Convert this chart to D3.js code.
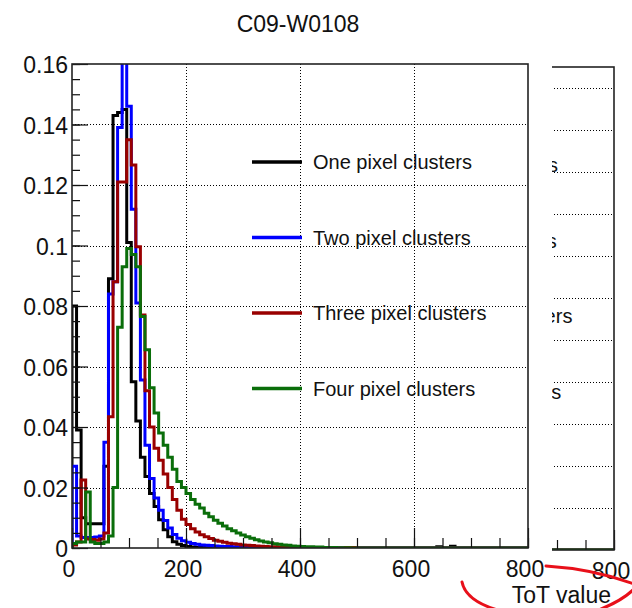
<!DOCTYPE html>
<html><head><meta charset="utf-8">
<script src="https://cdn.jsdelivr.net/npm/d3@7"></script>
<style>
body{margin:0;background:#fff}
svg{display:block}
text{font-family:"Liberation Sans",Arial,Helvetica,sans-serif;fill:#111}
</style>
</head><body>
<svg id="c" width="632" height="608"></svg>
<script>
// ---------------- data ----------------
const chartTitle = "C09-W0108";
const xTitle = "ToT value";
const binWidth = 8;               // ToT units per histogram bin (100 bins, 0..800)
const xTickValues = [0, 200, 400, 600, 800];
const xTickLabels = ["0", "200", "400", "600", "800"];
const yTickValues = [0, 0.02, 0.04, 0.06, 0.08, 0.1, 0.12, 0.14, 0.16];
const yTickLabels = ["0", "0.02", "0.04", "0.06", "0.08", "0.1", "0.12", "0.14", "0.16"];
const seriesNames = ["One pixel clusters", "Two pixel clusters", "Three pixel clusters", "Four pixel clusters"];
const seriesColors = ["#000000", "#0000ff", "#990000", "#0a6e0a"];

const onePixel = [
 0.080,0.039,0.010,0.008,0.008,0.008,0.008,0.027,0.089,0.143,
 0.144,0.145,0.101,0.055,0.042,0.030,0.0236,0.018,0.0137,0.0093,
 0.006,0.0037,0.0021,0.0012,0.0008,0.0005,0.0003,0.0002,0.0002,0.0001,
 0.0001,0.0001,0,0,0,0,0,0,0,0,
 0,0,0,0,0,0,0,0,0,0,
 0,0,0,0,0,0,0,0,0,0,
 0,0,0,0,0,0,0,0,0,0,
 0,0,0,0,0,0,0,0,0,0,
 0.0004,0,0,0.0006,0,0,0,0,0,0,
 0,0,0,0,0,0,0,0,0,0];
const twoPixel = [
 0.027,0.004,0.0035,0.0035,0.0035,0.0036,0.004,0.035,0.084,0.088,
 0.139,0.165,0.146,0.112,0.081,0.0555,0.034,0.023,0.0165,0.0125,
 0.0091,0.0066,0.0045,0.0032,0.0024,0.0019,0.0015,0.0012,0.0010,0.0009,
 0.0008,0.0007,0.0006,0.0005,0.0005,0.0004,0.0004,0.0003,0.0003,0.0002,
 0.0002,0.0002,0.0001,0.0001,0.0001,0,0,0,0,0,
 0,0,0,0,0,0,0,0,0,0,
 0,0,0,0,0,0,0,0,0,0,
 0,0,0,0,0,0,0,0,0,0,
 0,0,0,0,0,0,0,0,0,0,
 0,0,0,0,0,0,0,0,0,0];
const threePixel = [
 0.001,0.002,0.0225,0.003,0.0028,0.0026,0.003,0.005,0.0434,0.088,
 0.121,0.121,0.135,0.1266,0.0996,0.077,0.052,0.040,0.033,0.029,
 0.0245,0.020,0.016,0.0125,0.0095,0.0078,0.0064,0.0053,0.0044,0.0037,
 0.0031,0.0026,0.0022,0.0019,0.0016,0.0014,0.0012,0.0010,0.0009,0.0008,
 0.0007,0.0006,0.0005,0.0004,0.0004,0.0003,0.0003,0.0002,0.0002,0.0001,
 0.0001,0,0,0,0,0,0,0,0,0,
 0.0002,0.0002,0,0,0,0,0,0,0,0,
 0,0,0,0,0,0,0,0,0,0,
 0,0,0,0,0,0,0,0,0,0,
 0,0,0,0,0,0,0,0,0,0];
const fourPixel = [
 0.0015,0.002,0.002,0.0185,0.002,0.0015,0.0015,0.002,0.004,0.020,
 0.073,0.093,0.099,0.097,0.093,0.0765,0.0655,0.053,0.0446,0.038,
 0.034,0.030,0.026,0.022,0.020,0.018,0.016,0.0145,0.0132,0.0115,
 0.0103,0.0092,0.0082,0.0073,0.0064,0.0057,0.0050,0.0043,0.0037,0.0032,
 0.0027,0.0023,0.0020,0.0017,0.0014,0.0012,0.0010,0.0009,0.0007,0.0006,
 0.0005,0.0004,0.0004,0.0003,0.0003,0.0002,0.0002,0.0002,0.0001,0.0001,
 0.0001,0,0,0,0,0,0,0,0,0,
 0,0,0,0,0,0,0,0,0,0,
 0,0,0,0,0,0,0,0,0,0,
 0,0,0,0,0,0,0,0,0,0];
const seriesValues = [onePixel, twoPixel, threePixel, fourPixel];

// ---------------- layout ----------------
const svg = d3.select("#c");
const F = {l: 72, r: 528, t: 64, b: 548};        // main frame
const F2 = {l: 158, r: 614, t: 67, b: 550, clip: 552}; // second (partly hidden) pad

const x = d3.scaleLinear().domain([0, 800]).range([F.l, F.r]);
const y = d3.scaleLinear().domain([0, 0.16]).range([F.b, F.t]);
const x2 = d3.scaleLinear().domain([0, 800]).range([F2.l, F2.r]);
const y2 = d3.scaleLinear().domain([0, 0.115]).range([F2.b, F2.t]);

const defs = svg.append("defs");
defs.append("clipPath").attr("id", "frameClip").append("rect")
  .attr("x", F.l).attr("y", F.t).attr("width", F.r - F.l).attr("height", F.b - F.t);
defs.append("clipPath").attr("id", "pad2Clip").append("rect")
  .attr("x", F2.clip).attr("y", 0).attr("width", 632 - F2.clip).attr("height", 608);
defs.append("clipPath").attr("id", "frame2Clip").append("rect")
  .attr("x", F2.l).attr("y", F2.t).attr("width", F2.r - F2.l).attr("height", F2.b - F2.t);

function histPoints(vals) {
  const pts = [[0, 0]];
  vals.forEach((v, i) => pts.push([i * binWidth, v]));
  pts.push([vals.length * binWidth, 0]);
  return pts;
}

function drawPad(g, xs, ys, fr, gridY, clipId, legendDx, legendDy, showYLabels, visibleFrom) {
  // grid
  const grid = g.append("g").attr("stroke", "#000").attr("stroke-width", 1)
    .attr("stroke-dasharray", "1,2");
  gridY.forEach(v => grid.append("line")
    .attr("x1", fr.l).attr("x2", fr.r).attr("y1", Math.round(ys(v)) + 0.5).attr("y2", Math.round(ys(v)) + 0.5));
  [200, 400, 600].filter(v => xs(v) >= visibleFrom).forEach(v => grid.append("line")
    .attr("y1", fr.t).attr("y2", fr.b).attr("x1", Math.round(xs(v)) + 0.5).attr("x2", Math.round(xs(v)) + 0.5));

  // histograms
  const line = d3.line().x(d => xs(d[0])).y(d => ys(d[1])).curve(d3.curveStepAfter);
  const hg = g.append("g").attr("clip-path", `url(#${clipId})`);
  seriesValues.forEach((vals, k) => {
    hg.append("path").attr("d", line(histPoints(vals)))
      .attr("fill", "none").attr("stroke", seriesColors[k]).attr("stroke-width", 3)
      .attr("stroke-linejoin", "miter");
  });

  // axes (ticks inside the frame) — only ticks in the visible part of the pad
  const majIdx = xTickValues.map((v, i) => i).filter(i => xs(xTickValues[i]) >= visibleFrom);
  const xMajor = d3.axisBottom(xs).tickValues(majIdx.map(i => xTickValues[i])).tickSize(-20).tickPadding(13)
    .tickFormat(d => xTickLabels[xTickValues.indexOf(d)]);
  const xMinor = d3.axisBottom(xs).tickValues(d3.range(0, 801, 50).filter(v => xs(v) >= visibleFrom))
    .tickSize(-10).tickFormat("");
  const ax = g.append("g").attr("transform", `translate(0,${fr.b})`);
  ax.call(xMinor); ax.select(".domain").remove();
  const ax2 = g.append("g").attr("transform", `translate(0,${fr.b})`);
  ax2.call(xMajor); ax2.select(".domain").remove();
  ax2.selectAll("text").attr("font-size", 23).attr("dx", -3.5)
    .style("font-family", "'Liberation Sans',Arial,sans-serif").attr("fill", "#111");

  if (showYLabels) {
    const yMinor = d3.axisLeft(ys).tickValues(d3.range(0, 0.16001, 0.005)).tickSize(-8).tickFormat("");
    const yMajor = d3.axisLeft(ys).tickValues(yTickValues).tickSize(-16).tickPadding(4)
      .tickFormat((d, i) => yTickLabels[i]);
    const ay = g.append("g").attr("transform", `translate(${fr.l},0)`);
    ay.call(yMinor); ay.select(".domain").remove();
    const ay2 = g.append("g").attr("transform", `translate(${fr.l},0)`);
    ay2.call(yMajor); ay2.select(".domain").remove();
    ay2.selectAll("text").attr("font-size", 23).attr("dy", "0.37em")
      .style("font-family", "'Liberation Sans',Arial,sans-serif").attr("fill", "#111");
  }
  g.selectAll(".tick line").attr("stroke", "#111").attr("stroke-width", 1.2);

  // frame
  g.append("rect").attr("x", fr.l).attr("y", fr.t).attr("width", fr.r - fr.l).attr("height", fr.b - fr.t)
    .attr("fill", "none").attr("stroke", "#222").attr("stroke-width", 1.6);

  // legend (in the hidden pad only the tail of each label shows)
  const lg = g.append("g");
  seriesNames.forEach((name, k) => {
    const ly = 162 + k * 75.5 + legendDy;
    if (302 + legendDx >= visibleFrom) {
      lg.append("line").attr("x1", 252 + legendDx).attr("x2", 302 + legendDx)
        .attr("y1", ly).attr("y2", ly).attr("stroke", seriesColors[k]).attr("stroke-width", 3.5);
    }
    const t = lg.append("text").attr("x", 313 + legendDx).attr("y", ly + 7).attr("font-size", 20)
      .attr("fill", "#222").text(name);
    if (313 + legendDx < visibleFrom) {
      const node = t.node();
      let first = -1;
      for (let c = 0; c < name.length; c++) {
        const ext = node.getExtentOfChar(c);
        if (ext.x + ext.width > visibleFrom + 1.5) { first = c; break; }
      }
      if (first < 0) { t.remove(); }
      else {
        const sx = node.getStartPositionOfChar(first).x;
        t.attr("x", sx).text(name.slice(first));
      }
    }
  });
}

// second pad (mostly hidden behind the first one)
const pad2 = svg.append("g").attr("clip-path", "url(#pad2Clip)");
drawPad(pad2, x2, y2, F2, d3.range(0.01, 0.1101, 0.01), "frame2Clip", 86, 3, false, F2.clip);

// main pad
const pad1 = svg.append("g");
drawPad(pad1, x, y, F, [0.02, 0.04, 0.06, 0.08, 0.1, 0.12, 0.14], "frameClip", 0, 0, true, -1e9);

// title
svg.append("text").attr("x", 298).attr("y", 32).attr("text-anchor", "middle")
  .attr("font-size", 23).attr("fill", "#111").text(chartTitle);

// x-axis title (belongs to the right pad)
svg.append("text").attr("x", 611).attr("y", 603).attr("text-anchor", "end")
  .attr("font-size", 23).attr("fill", "#111").text(xTitle);

// hand-drawn red annotation
const ann = svg.append("g").attr("fill", "none").attr("stroke", "#e8101a").attr("stroke-width", 3)
  .attr("stroke-linecap", "round");
ann.append("path").attr("d", "M462,582 C465,597 480,606 505,612");
ann.append("path").attr("d", "M596,611 C612,605 626,597 634,589");
ann.append("path").attr("d", "M546,566 C578,568 610,575 634,584");
</script>
</body></html>
